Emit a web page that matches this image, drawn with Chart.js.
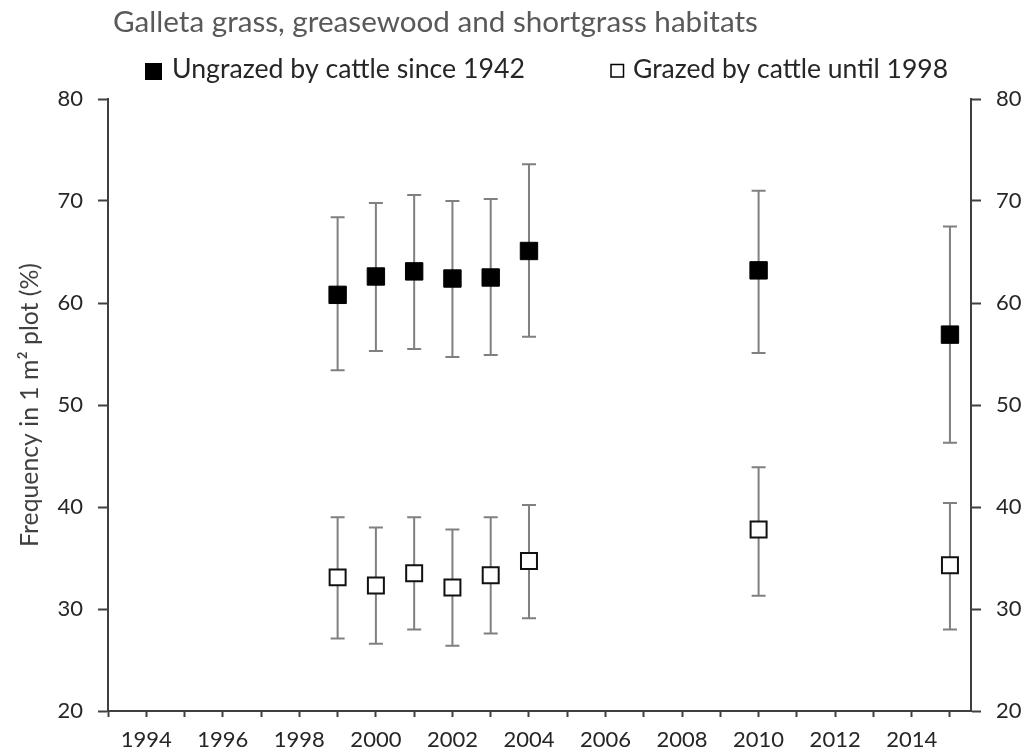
<!DOCTYPE html>
<html><head><meta charset="utf-8">
<script src="https://cdn.jsdelivr.net/npm/chart.js@4.4.1/dist/chart.umd.min.js"></script>
<style>html,body{margin:0;padding:0;background:#fff}canvas{display:block}</style>
</head><body>
<canvas id="c" width="1027" height="754"></canvas>
<script>
// ---- data ----
const years = [1999, 2000, 2001, 2002, 2003, 2004, 2010, 2015];
const ungrazedMean = [60.8, 62.6, 63.1, 62.4, 62.5, 65.1, 63.2, 56.9];
const ungrazedLow  = [53.4, 55.3, 55.5, 54.7, 54.9, 56.7, 55.1, 46.3];
const ungrazedHigh = [68.4, 69.8, 70.6, 70.0, 70.2, 73.6, 71.0, 67.5];
const grazedMean = [33.1, 32.3, 33.5, 32.1, 33.3, 34.7, 37.8, 34.3];
const grazedLow  = [27.1, 26.6, 28.0, 26.4, 27.6, 29.1, 31.3, 28.0];
const grazedHigh = [39.0, 38.0, 39.0, 37.8, 39.0, 40.2, 43.9, 40.4];
const yTickValues = [20, 30, 40, 50, 60, 70, 80];
const xLabelYears = [1994, 1996, 1998, 2000, 2002, 2004, 2006, 2008, 2010, 2012, 2014];
const titleText = 'Galleta grass, greasewood and shortgrass habitats';
const seriesNames = ['Ungrazed by cattle since 1942', 'Grazed by cattle until 1998'];
const yTitleText = 'Frequency in 1 m\u00B2 plot (%)';

const FONT = 'Lato, "Noto Sans", sans-serif';
const mctx = document.createElement('canvas').getContext('2d');
function fit(text, width) {
  mctx.font = '20px ' + FONT;
  return 20 * width / mctx.measureText(text).width;
}
const titleSize = fit(titleText, 645);
const leg1Size = fit(seriesNames[0], 353);
const leg2Size = fit(seriesNames[1], 315);
const yTitleSize = fit(yTitleText, 284);

function pts(mean, lo, hi) {
  return years.map((yr, i) => ({x: yr, y: mean[i], yMin: lo[i], yMax: hi[i]}));
}

const errorBars = {
  id: 'errorBars',
  beforeDatasetsDraw(chart) {
    const {ctx, scales: {x, y}} = chart;
    ctx.save();
    ctx.strokeStyle = '#808080';
    ctx.lineWidth = 2;
    chart.data.datasets.forEach(ds => {
      ds.data.forEach(p => {
        const px = x.getPixelForValue(p.x);
        const lo = y.getPixelForValue(p.yMin);
        const hi = y.getPixelForValue(p.yMax);
        ctx.beginPath();
        ctx.moveTo(px, lo); ctx.lineTo(px, hi);
        ctx.moveTo(px - 7, lo); ctx.lineTo(px + 7, lo);
        ctx.moveTo(px - 7, hi); ctx.lineTo(px + 7, hi);
        ctx.stroke();
      });
    });
    ctx.restore();
  }
};

const headings = {
  id: 'headings',
  afterDraw(chart) {
    const ctx = chart.ctx;
    ctx.save();
    ctx.textBaseline = 'alphabetic';
    ctx.textAlign = 'left';
    ctx.fillStyle = '#595959';
    ctx.font = titleSize.toFixed(2) + 'px ' + FONT;
    ctx.fillText(titleText, 113, 32);
    // legend
    ctx.fillStyle = '#000';
    ctx.fillRect(145, 63, 17, 17);
    ctx.fillStyle = '#262626';
    ctx.font = leg1Size.toFixed(2) + 'px ' + FONT;
    ctx.fillText(seriesNames[0], 172, 78);
    ctx.strokeStyle = '#000';
    ctx.lineWidth = 1.5;
    ctx.strokeRect(611, 64.5, 12.5, 12.5);
    ctx.font = leg2Size.toFixed(2) + 'px ' + FONT;
    ctx.fillText(seriesNames[1], 633, 78);
    ctx.restore();
  }
};

const axisColor = '#404040';
const tickFont = {family: FONT, size: 22};

function yAxis(pos, width) {
  return {
    type: 'linear', position: pos, min: 20, max: 80,
    afterBuildTicks: s => { s.ticks = yTickValues.map(v => ({value: v})); },
    ticks: {color: '#262626', font: tickFont, padding: 15},
    grid: {drawOnChartArea: false, drawTicks: true, tickLength: 10, color: axisColor, tickWidth: 2},
    border: {display: true, color: axisColor, width: 2},
    afterFit: s => { s.width = width; }
  };
}

const yLeft = yAxis('left', 108);
yLeft.title = {display: true, text: yTitleText, color: '#404040',
  font: {family: FONT, size: yTitleSize}, padding: {top: 15, bottom: 0}};

new Chart(document.getElementById('c'), {
  type: 'scatter',
  data: {
    datasets: [
      {label: seriesNames[0], data: pts(ungrazedMean, ungrazedLow, ungrazedHigh),
       pointStyle: 'rect', pointRadius: 12.3, backgroundColor: '#000', borderColor: '#000', borderWidth: 1, showLine: false},
      {label: seriesNames[1], data: pts(grazedMean, grazedLow, grazedHigh),
       pointStyle: 'rect', pointRadius: 11.3, backgroundColor: '#fff', borderColor: '#111', borderWidth: 2, showLine: false}
    ]
  },
  options: {
    responsive: false, animation: false, devicePixelRatio: 1,
    layout: {padding: {top: 99, left: 0, right: 0, bottom: 0}},
    plugins: {legend: {display: false}, title: {display: false}, tooltip: {enabled: false}},
    scales: {
      x: {
        type: 'linear', position: 'bottom', min: 1993, max: 2015.55,
        ticks: {stepSize: 1, autoSkip: false, includeBounds: false, maxRotation: 0, minRotation: 0,
          color: '#262626', font: tickFont, padding: 10,
          callback: v => xLabelYears.includes(v) ? String(v) : ''},
        grid: {drawOnChartArea: false, drawTicks: true, tickLength: 6, color: axisColor, tickWidth: 2},
        border: {display: true, color: axisColor, width: 2},
        afterFit: s => { s.height = 43; }
      },
      y: yLeft,
      y2: yAxis('right', 56)
    }
  },
  plugins: [errorBars, headings]
});
</script>
</body></html>
